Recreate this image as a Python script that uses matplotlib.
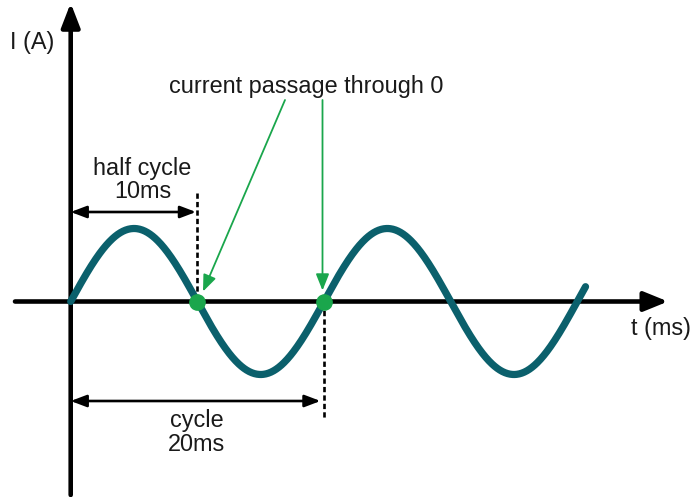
import numpy as np
import matplotlib
matplotlib.use("Agg")
import matplotlib.pyplot as plt

# ---- data ----
period_ms = 20.0          # one full cycle
half_period_ms = 10.0     # half cycle
amplitude = 1.0           # arbitrary current units
t_end_ms = 40.65          # where the drawn wave stops
zero_crossings_ms = [10.0, 20.0]   # highlighted passages through 0

labels = {
    "y_axis": "I (A)",
    "x_axis": "t (ms)",
    "zero": "current passage through 0",
    "half": ["half cycle", "10ms"],
    "full": ["cycle", "20ms"],
}

# ---- styling ----
teal = "#0b606c"
green = "#1aa64c"
font = ["Liberation Sans", "DejaVu Sans"]
fs = 16.9

fig = plt.figure(figsize=(6.92, 4.97), dpi=100)
ax = fig.add_axes([0, 0, 1, 1])
ax.set_axis_off()

# pixel -> data helpers for layout (x: 12.665 px per ms, y: 73 px per unit)
def X(px):
    return (px - 70.7) / 12.665

def Y(py):
    return (301.5 - py) / 73.0

ax.set_xlim(X(0), X(692))
ax.set_ylim(Y(497), Y(0))

# axes with arrows
ax.annotate("", xy=(0, Y(3)), xytext=(0, Y(495)),
            arrowprops=dict(arrowstyle="-|>,head_length=14.5,head_width=5.6",
                            mutation_scale=1, lw=3.3, color="black",
                            shrinkA=0, shrinkB=0))
ax.annotate("", xy=(X(668), 0), xytext=(X(15), 0),
            arrowprops=dict(arrowstyle="-|>,head_length=14.5,head_width=5.9",
                            mutation_scale=1, lw=3.3, color="black",
                            shrinkA=0, shrinkB=0))

# sine wave
t = np.linspace(0, t_end_ms, 800)
i = amplitude * np.sin(2 * np.pi * t / period_ms)
ax.plot(t, i, color=teal, lw=5.2, solid_capstyle="round", zorder=3)

# zero-crossing dots
ax.plot(zero_crossings_ms, [0] * len(zero_crossings_ms), "o", color=green,
        ms=11, zorder=5)

# dashed markers
ax.plot([half_period_ms, half_period_ms], [Y(193), 0], color="black", lw=1.9,
        dashes=(2.0, 1.2), zorder=2)
ax.plot([period_ms, period_ms], [0, Y(418)], color="black", lw=1.9,
        dashes=(2.0, 1.2), zorder=2)

# dimension arrows
dim = dict(arrowstyle="<|-|>,head_length=9.5,head_width=3.6", mutation_scale=1,
           lw=1.9, color="black", shrinkA=0, shrinkB=0)
ax.annotate("", xy=(0, Y(212)), xytext=(X(196), Y(212)), arrowprops=dim)
ax.annotate("", xy=(0, Y(401)), xytext=(X(320.5), Y(401)), arrowprops=dim)

# green pointer arrows
gp = dict(arrowstyle="-|>,head_length=10,head_width=4", mutation_scale=1,
          lw=1.3, color=green, shrinkA=0, shrinkB=0)
ax.annotate("", xy=(X(203), Y(291.5)), xytext=(X(285), Y(100)), arrowprops=gp)
ax.annotate("", xy=(X(322.5), Y(290.5)), xytext=(X(322.5), Y(100)), arrowprops=gp)

# texts
tk = dict(fontsize=fs, family=font, color="#1a1a1a", ha="center", va="baseline")
ax.text(X(31.7), Y(48.5), labels["y_axis"], **tk)
ax.text(X(661), Y(335.5), labels["x_axis"], **tk)
ax.text(X(306), Y(93.5), labels["zero"], **tk)
ax.text(X(142.5), Y(175), labels["half"][0], **tk)
ax.text(X(142.5), Y(198.3), labels["half"][1], **tk)
ax.text(X(196.5), Y(426.7), labels["full"][0], **tk)
ax.text(X(196.5), Y(450.7), labels["full"][1], **tk)

fig.savefig("out.png", dpi=100)
